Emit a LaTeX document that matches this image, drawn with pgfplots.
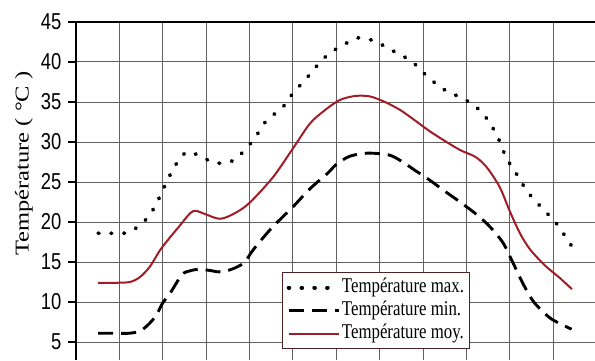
\documentclass[border=0pt]{standalone}
\usepackage{graphicx}
\usepackage{fontspec}
\setmainfont{Liberation Serif}
\newfontfamily\legfont{Liberation Serif}[FakeStretch=0.8]
\newfontfamily\tickfont{Liberation Sans}[FakeStretch=0.8]
\usepackage{pgfplots}
\pgfplotsset{compat=1.18}
\definecolor{moyred}{RGB}{160,28,38}
\definecolor{legborder}{RGB}{75,35,35}
\begin{document}
\begin{tikzpicture}
\begin{axis}[name=ax,
  scale only axis, width=519pt, height=338pt,
  xmin=0, xmax=11.96, ymin=2.75, ymax=45,
  axis x line*=top, axis y line*=left,
  xtick={1,...,11}, xticklabels={},
  ytick={5,10,...,45},
  /pgf/number format/assume math mode=true,
  yticklabel style={font=\tickfont\fontsize{23}{23}\selectfont, xshift=-3pt},
  grid=major, major grid style={black!62, line width=1pt},
  tick align=outside, major tick length=8pt,
  y tick style={black, line width=1.2pt},
  x tick style={draw=none},
  axis line style={black, line width=1.6pt},
  ylabel={\scalebox{1}[0.8]{Température ( °C )}},
  ylabel style={at={(axis description cs:-0.1002,0.581)}, anchor=center, font=\fontsize{24.5}{24.5}\selectfont},
  legend style={at={(0.397,0.2604)}, anchor=north west, draw=legborder, line width=1.3pt, fill=white,
    font=\legfont\fontsize{21}{21}\selectfont, inner xsep=4pt, inner ysep=4pt, row sep=1pt,
    nodes={inner sep=1.5pt, text height=14pt, text depth=5pt}, cells={anchor=west}},
  legend image code/.code={\draw[#1] (0pt,0pt) -- (50pt,0pt);},
]
\addplot[black, line width=3.8pt, line cap=round, dash pattern=on 0.8pt off 12pt, smooth] coordinates {
(0.51,18.6) (0.9,18.6) (1.2,18.7) (1.54,19.9) (1.8,21.75) (2.0,24) (2.17,25.9) (2.4,28) (2.6,28.8)
(2.9,28.1) (3.2,27.4) (3.55,27.5) (3.85,28.75) (4.12,30.5) (4.4,32.75) (4.75,34.25) (5.0,36.1)
(5.28,37.75) (5.53,39.4) (5.8,40.9) (6.08,41.9) (6.43,42.9) (6.59,43) (6.89,42.6) (7.23,41.6)
(7.58,40.6) (7.88,39.4) (8.11,38.1) (8.5,36.5) (8.89,35.5) (9.22,34.4) (9.49,32.75) (9.72,30.6)
(9.91,28.1) (10.14,26.1) (10.41,23.75) (10.78,21.5) (11.06,19.9) (11.41,17.1)
};
\addlegendentry{Température max.}
\addplot[black, line width=2.9pt, dash pattern=on 15pt off 8pt, smooth] coordinates {
(0.51,6.1) (0.9,6.1) (1.24,6.1) (1.52,6.5) (1.82,8.1) (2.0,9.9) (2.17,11.1) (2.44,13.4) (2.63,13.9)
(2.86,14.1) (3.13,13.9) (3.36,13.75) (3.66,14.25) (3.89,15) (4.08,16.5) (4.5,19.2) (5.0,21.9)
(5.4,24.2) (5.8,26.1) (6.0,27.2) (6.3,28.2) (6.7,28.6) (7.2,28.4) (7.5,27.6) (7.8,26.5) (8.16,25.2)
(8.46,24) (8.85,22.5) (9.24,20.9) (9.54,19.4) (9.84,17.4) (10.07,14.9) (10.3,12.3) (10.55,10.0)
(10.9,8.1) (11.15,7.3) (11.42,6.6)
};
\addlegendentry{Température min.}
\addplot[moyred, line width=2pt, smooth] coordinates {
(0.51,12.4) (0.9,12.4) (1.24,12.5) (1.47,13.1) (1.7,14.4) (1.94,16.5) (2.17,18.1) (2.4,19.6)
(2.63,21.1) (2.76,21.4) (2.97,21.0) (3.32,20.4) (3.66,21.1) (4.0,22.4) (4.54,25.6) (5.0,29.2)
(5.39,32.3) (5.74,34) (6.08,35.25) (6.43,35.75) (6.77,35.7) (7.12,35) (7.47,34) (7.81,32.7)
(8.11,31.5) (8.45,30.3) (8.85,29) (9.15,28.3) (9.3,27.75) (9.5,26.6) (9.77,24.3) (10.0,21.3)
(10.23,18.6) (10.46,16.6) (10.8,14.6) (11.15,13.0) (11.43,11.6)
};
\addlegendentry{Température moy.}
\end{axis}
\pgfresetboundingbox
\path ([xshift=-76pt]ax.south west) rectangle ([yshift=22pt]ax.north east);
\end{tikzpicture}
\end{document}
